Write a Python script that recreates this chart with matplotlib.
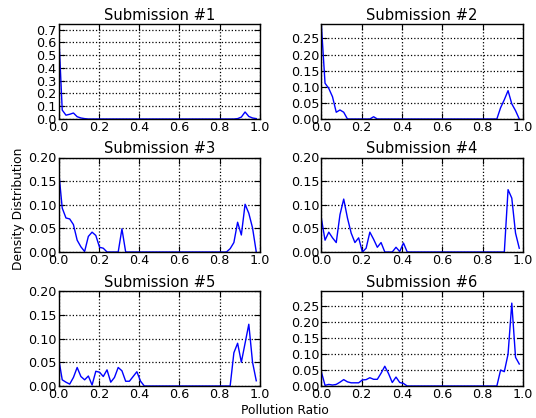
import numpy as np
import matplotlib
matplotlib.use("Agg")
import matplotlib.pyplot as plt

# x grid: 54 bins on [0, 1], left edges
x = np.arange(54) / 54.0

titles = ["Submission #1", "Submission #2", "Submission #3",
          "Submission #4", "Submission #5", "Submission #6"]

sub1 = [0.71, 0.07, 0.03, 0.037, 0.047, 0.018, 0.008, 0.003,
        0, 0, 0, 0, 0, 0, 0, 0, 0, 0,
        0, 0, 0, 0, 0, 0, 0, 0, 0, 0,
        0, 0, 0, 0, 0, 0, 0, 0, 0, 0,
        0, 0, 0, 0, 0, 0, 0, 0, 0, 0,
        0.003, 0.015, 0.055, 0.02, 0.008, 0.003]
sub2 = [0.295, 0.111, 0.095, 0.069, 0.021, 0.028, 0.021, 0,
        0, 0, 0, 0, 0, 0,
        0.007,
        0, 0, 0, 0, 0,
        0, 0, 0, 0, 0, 0, 0, 0, 0, 0,
        0, 0, 0, 0, 0, 0, 0, 0, 0, 0,
        0, 0, 0, 0, 0, 0, 0, 0,
        0.035, 0.06, 0.088, 0.047, 0.026, 0]
sub3 = [0.175, 0.093, 0.072, 0.07, 0.058, 0.025, 0.011, 0.001, 0.033, 0.042,
        0.035, 0.01, 0.008, 0, 0, 0, 0, 0.049, 0, 0,
        0, 0, 0, 0, 0, 0, 0, 0, 0, 0,
        0, 0, 0, 0, 0, 0, 0, 0, 0, 0,
        0, 0, 0, 0, 0, 0,
        0.007, 0.02, 0.063, 0.036, 0.101, 0.082, 0.051, 0]
sub4 = [0.072, 0.025, 0.042, 0.03, 0.02, 0.079, 0.112, 0.072, 0.04, 0.02,
        0.03, 0, 0.008, 0.042, 0.027, 0.01, 0.02, 0, 0, 0,
        0.01, 0.001, 0.019, 0, 0, 0, 0, 0, 0, 0,
        0, 0, 0, 0, 0, 0, 0, 0, 0, 0,
        0, 0, 0, 0, 0, 0, 0, 0, 0, 0,
        0.132, 0.114, 0.04, 0.008]
sub5 = [0.06, 0.013, 0.008, 0.004, 0.018, 0.039, 0.02, 0.013, 0.021, 0.002,
        0.031, 0.029, 0.02, 0.034, 0.008, 0.018, 0.039, 0.032, 0.01, 0.01,
        0.02, 0.03, 0.01, 0, 0, 0, 0, 0, 0, 0,
        0, 0, 0, 0, 0, 0, 0, 0, 0, 0,
        0, 0, 0, 0, 0, 0, 0,
        0.07, 0.09, 0.05, 0.09, 0.13, 0.05, 0.011]
sub6 = [0.045, 0.002, 0.005, 0.003, 0.005, 0.012, 0.02, 0.013, 0.01, 0.01,
        0.01, 0.019, 0.02, 0.026, 0.021, 0.021, 0.04, 0.062, 0.039, 0.011,
        0.028, 0.011, 0.008, 0, 0, 0, 0, 0, 0, 0,
        0, 0, 0, 0, 0, 0, 0, 0, 0, 0,
        0, 0, 0, 0, 0, 0, 0, 0,
        0.05, 0.045, 0.1, 0.26, 0.09, 0.069]

series = [sub1, sub2, sub3, sub4, sub5, sub6]

xticks = [0.0, 0.2, 0.4, 0.6, 0.8, 1.0]
xticklabels = ["0.0", "0.2", "0.4", "0.6", "0.8", "1.0"]
yticks = [
    [0.0, 0.1, 0.2, 0.3, 0.4, 0.5, 0.6, 0.7],
    [0.0, 0.05, 0.10, 0.15, 0.20, 0.25],
    [0.0, 0.05, 0.10, 0.15, 0.20],
    [0.0, 0.05, 0.10, 0.15, 0.20],
    [0.0, 0.05, 0.10, 0.15, 0.20],
    [0.0, 0.05, 0.10, 0.15, 0.20, 0.25],
]
yticklabels = [
    ["0.0", "0.1", "0.2", "0.3", "0.4", "0.5", "0.6", "0.7"],
    ["0.00", "0.05", "0.10", "0.15", "0.20", "0.25"],
    ["0.00", "0.05", "0.10", "0.15", "0.20"],
    ["0.00", "0.05", "0.10", "0.15", "0.20"],
    ["0.00", "0.05", "0.10", "0.15", "0.20"],
    ["0.00", "0.05", "0.10", "0.15", "0.20", "0.25"],
]
ytops = [0.745, 0.295, 0.2, 0.2, 0.2, 0.298]

plt.rcParams['font.family'] = ['DejaVu Sans']

W, H = 536, 418
fig = plt.figure(figsize=(W / 100, H / 100), dpi=100, facecolor='white')

lefts = [58.5, 321.3]
rights = [260.0, 523.0]
tops = [24.0, 157.5, 291.0]
bottoms = [119.0, 252.0, 386.0]

for k in range(6):
    r, c = divmod(k, 2)
    l = lefts[c] / W
    w = (rights[c] - lefts[c]) / W
    b = 1 - bottoms[r] / H
    h = (bottoms[r] - tops[r]) / H
    ax = fig.add_axes([l, b, w, h])
    ax.plot(x, series[k], color='blue', linewidth=1.0)
    ax.set_xlim(0, 1)
    ax.set_ylim(0, ytops[k])
    ax.set_xticks(xticks)
    ax.set_xticklabels(xticklabels)
    ax.set_yticks(yticks[k])
    ax.set_yticklabels(yticklabels[k])
    ax.grid(True, color='black', linestyle=':', linewidth=0.9)
    ax.tick_params(direction='in', top=True, right=True, length=4, width=0.8,
                   labelsize=9.2, color='black')
    ax.tick_params(axis='x', pad=1.5)
    ax.tick_params(axis='y', pad=1.2)
    for s in ax.spines.values():
        s.set_linewidth(1.0)
    ax.set_title(titles[k], fontsize=10.6, pad=3)

fig.text(19 / W, 0.5, "Density Distribution", rotation=90,
         ha='center', va='center', fontsize=8.8)
fig.text(285 / W, 1 - 411 / H, "Pollution Ratio",
         ha='center', va='center', fontsize=8.8)

fig.savefig("out.png", dpi=100, facecolor='white')
